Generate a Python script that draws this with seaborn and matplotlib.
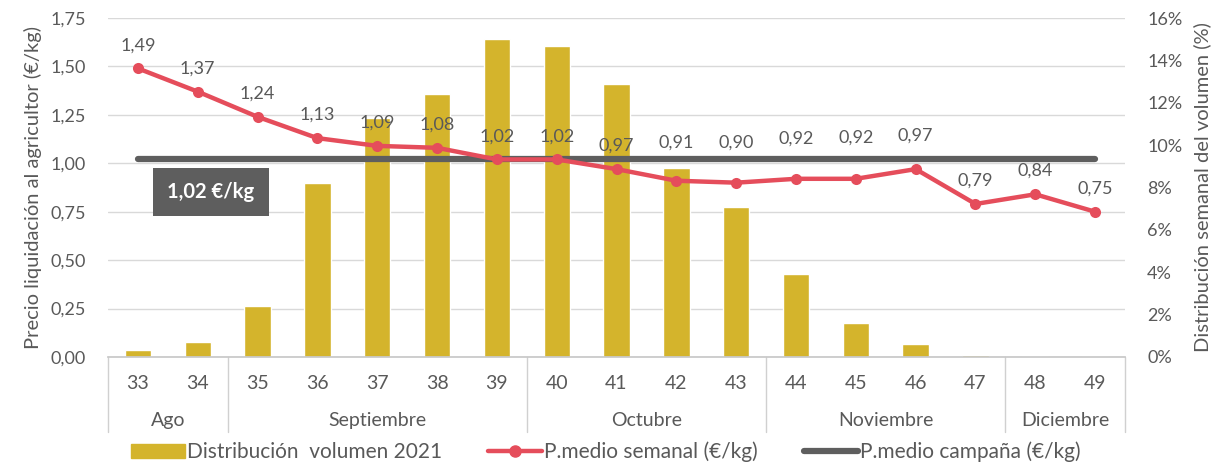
import numpy as np
import pandas as pd
import matplotlib
matplotlib.use("Agg")
import matplotlib.pyplot as plt
import seaborn as sns
from matplotlib.patches import Patch
from matplotlib.lines import Line2D

# Data
weeks = ["33", "34", "35", "36", "37", "38", "39", "40", "41",
         "42", "43", "44", "45", "46", "47", "48", "49"]
volume_pct = [0.33, 0.7, 2.4, 8.2, 11.3, 12.4, 15.0, 14.7, 12.9,
              8.9, 7.1, 3.9, 1.6, 0.6, 0.1, 0.03, 0.03]
price_week = [1.49, 1.37, 1.24, 1.13, 1.09, 1.08, 1.02, 1.02, 0.97,
              0.91, 0.90, 0.92, 0.92, 0.97, 0.79, 0.84, 0.75]
price_campaign = 1.02
months = ["Ago", "Septiembre", "Octubre", "Noviembre", "Diciembre"]
month_weeks = [2, 5, 4, 4, 2]

# label offsets (points) so the labels clear the campaign line
label_offset = [11, 11, 11, 11, 11, 11, 11, 11, 11,
                22, 23, 23, 24, 18, 11, 11, 11]

GOLD = "#D4B42C"
RED = "#E54D5B"
DARK = "#5E5E5E"
TXT = "#595959"

PMAX, VMAX = 1.75, 16.0

sns.set_theme(style="white")
plt.rcParams["font.family"] = ["Lato", "DejaVu Sans"]
plt.rcParams["text.color"] = TXT

df = pd.DataFrame({"week": weeks, "vol": volume_pct, "price": price_week})
# bars share the price axis, scaled so the right axis reads percent
df["vol_scaled"] = df["vol"] * PMAX / VMAX

fig = plt.figure(figsize=(12.11, 4.63), dpi=100)
ax = fig.add_axes([0.0892, 0.229, 0.8398, 0.732])

sns.barplot(data=df, x="week", y="vol_scaled", color=GOLD, width=0.44,
            saturation=1, ax=ax, zorder=2)
n = len(weeks)
sns.lineplot(x=np.arange(n), y=[price_campaign] * n, color=DARK, lw=4.5,
             ax=ax, zorder=3, solid_capstyle="round")
sns.lineplot(x=np.arange(n), y=df["price"], color=RED, lw=3.2, marker="o",
             markersize=8, markeredgewidth=0, ax=ax, zorder=4)

for i, p in enumerate(price_week):
    ax.annotate(f"{p:.2f}".replace(".", ","), (i, p),
                xytext=(0, label_offset[i]), textcoords="offset points",
                ha="center", va="bottom", fontsize=13, color=TXT)

ax.text(1.22, 0.85, "1,02 €/kg", ha="center", va="center", fontsize=14.5,
        fontweight="bold", color="white",
        bbox=dict(boxstyle="square,pad=0.7", fc=DARK, ec="none"), zorder=5)

ax.set_xlim(-0.5, n - 0.5)
ax.set_ylim(0, PMAX)
yt = np.arange(0, PMAX + 0.01, 0.25)
ax.set_yticks(yt)
ax.set_yticklabels([f"{v:.2f}".replace(".", ",") for v in yt])
ax.yaxis.grid(True, color="#D9D9D9", lw=1)
ax.set_axisbelow(True)
ax.tick_params(axis="y", length=0, labelsize=13, labelcolor=TXT, pad=16)
ax.tick_params(axis="x", length=0, labelsize=14, labelcolor=TXT, pad=13)
ax.set_xlabel("")
ax.set_ylabel("Precio liquidación al agricultor (€/kg)", fontsize=14.5,
              color=TXT, labelpad=6)
for s in ["top", "right", "left"]:
    ax.spines[s].set_visible(False)
ax.spines["bottom"].set_color("#C8C8C8")

sec = ax.secondary_yaxis("right", functions=(lambda y: y * VMAX / PMAX,
                                             lambda y: y * PMAX / VMAX))
sec.set_yticks(np.arange(0, 17, 2))
sec.set_yticklabels([f"{v}%" for v in range(0, 17, 2)])
sec.tick_params(length=0, labelsize=13, labelcolor=TXT, pad=16)
sec.spines["right"].set_visible(False)
sec.set_ylabel("Distribución semanal del volumen (%)", fontsize=14.5,
               color=TXT, labelpad=8)

# month group labels and separators under the week ticks
xt = ax.get_xaxis_transform()
bounds = np.concatenate([[0], np.cumsum(month_weeks)]) - 0.5
for b in bounds:
    ax.plot([b, b], [0, -0.222], transform=xt, color="#D0D0D0", lw=1,
            clip_on=False)
for m, a, b in zip(months, bounds[:-1], bounds[1:]):
    ax.text((a + b) / 2, -0.186, m, transform=xt, ha="center", va="center",
            fontsize=14, color=TXT)

handles = [Patch(color=GOLD),
           Line2D([], [], color=RED, lw=3.2, marker="o", markersize=8),
           Line2D([], [], color=DARK, lw=4.5)]
labels = ["Distribución  volumen 2021", "P.medio semanal (€/kg)",
          "P.medio campaña (€/kg)"]
fig.legend(handles, labels, loc="center", bbox_to_anchor=(0.5, 0.024),
           ncol=3, frameon=False, fontsize=15, handlelength=2.6,
           handletextpad=0.1, columnspacing=2.2, labelcolor=TXT)

fig.savefig("out.png", dpi=100)
